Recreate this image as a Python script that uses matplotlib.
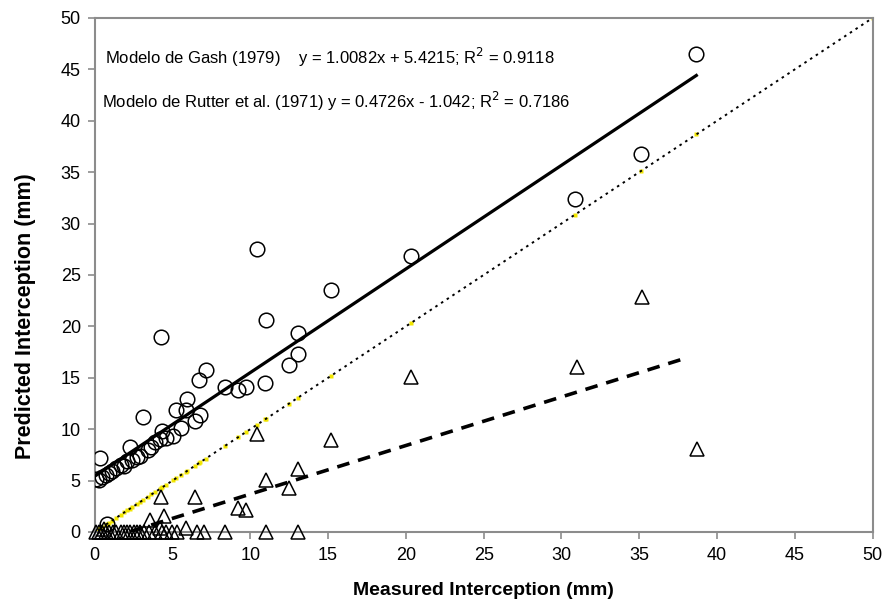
import numpy as np
from matplotlib import pyplot as plt
import matplotlib

matplotlib.rcParams['font.family'] = ['Liberation Sans', 'DejaVu Sans']

# Gash (1979) predictions - circles
gash_x = [0.1, 0.3, 0.35, 0.5, 0.7, 0.8, 0.9, 1.1, 1.4, 1.7, 1.9, 2.1, 2.25, 2.4, 2.7, 2.9,
          3.1, 3.4, 3.65, 3.9, 4.2, 4.24, 4.35, 4.6, 5.03, 5.25, 5.57, 5.85, 5.93, 6.43,
          6.68, 6.79, 7.13, 8.35, 9.2, 9.75, 10.4, 10.97, 11.0, 12.47, 13.05, 13.05,
          15.17, 20.3, 30.85, 35.1, 38.67]
gash_y = [5.2, 5.1, 7.2, 5.3, 5.5, 0.8, 5.7, 5.9, 6.2, 6.5, 6.4, 6.9, 8.3, 7.0, 7.3, 7.4,
          11.2, 8.0, 8.3, 8.8, 9.0, 19.0, 9.8, 9.1, 9.3, 11.9, 10.1, 11.9, 12.9, 10.8,
          14.8, 11.4, 15.8, 14.1, 13.8, 14.1, 27.5, 14.5, 20.6, 16.2, 19.4, 17.3,
          23.5, 26.8, 32.4, 36.8, 46.5]

# Rutter et al. (1971) predictions - triangles
rutter_x = [0.1, 0.3, 0.5, 0.7, 0.9, 1.2, 1.4, 1.7, 1.9, 2.1, 2.3, 2.5, 2.7, 2.9, 3.2, 3.5,
            3.9, 4.3, 4.6, 5.0, 5.3, 6.6, 7.0, 8.35, 11.0, 13.07,
            0.6, 3.53, 4.18, 4.24, 4.43, 5.9, 6.43, 9.2, 9.75, 10.4, 11.0, 12.47, 13.07,
            15.2, 20.3, 31.0, 35.15, 38.7]
rutter_y = [0, 0, 0, 0, 0, 0, 0, 0, 0, 0, 0, 0, 0, 0, 0, 0,
            0, 0, 0, 0, 0, 0, 0, 0, 0, 0,
            0.3, 1.2, 0.4, 3.4, 1.55, 0.4, 3.4, 2.3, 2.1, 9.5, 5.05, 4.3, 6.1,
            8.9, 15.1, 16.0, 22.9, 8.1]

# trend lines (slope, intercept, x range)
gash_fit = (1.0082, 5.4215)
gash_range = (0.1, 38.67)
rutter_fit = (0.4726, -1.042)
rutter_range = (2.3, 38.0)

fig = plt.figure(figsize=(8.85, 6.05), dpi=100)
ax = fig.add_axes([0.107, 0.1207, 0.879, 0.8496])

# 1:1 line with yellow points
one_x = sorted(set(gash_x + [50]))
ax.plot(one_x, one_x, ls='none', marker='s', ms=2.5, color='#f2e600', mec='none', zorder=1)
ax.plot([0, 50], [0, 50], ls=(0, (1.3, 2.2)), color='black', lw=1.4, zorder=2)

gx = np.array(gash_range)
ax.plot(gx, gash_fit[0] * gx + gash_fit[1], color='black', lw=2.3, zorder=3)
rx = np.array(rutter_range)
ax.plot(rx, rutter_fit[0] * rx + rutter_fit[1], color='black', lw=2.6,
        ls=(0, (3.5, 2.5)), zorder=3)

ax.plot(gash_x, gash_y, ls='none', marker='o', ms=10.5, mfc='none', mec='black',
        mew=1.1, zorder=4)
ax.plot(rutter_x, rutter_y, ls='none', marker='^', ms=9.5, mfc='none', mec='black',
        mew=1.1, zorder=4, clip_on=False)

ax.set_xlim(0, 50)
ax.set_ylim(0, 50)
ax.set_xticks(np.arange(0, 51, 5))
ax.set_yticks(np.arange(0, 51, 5))
for s in ax.spines.values():
    s.set_color('#8c8c8c')
    s.set_linewidth(1.5)
ax.tick_params(axis='both', direction='out', length=5, width=1.2, color='#8c8c8c',
               top=False, right=False)
ax.tick_params(axis='x', labelsize=13, pad=6)
ax.tick_params(axis='y', labelsize=13, pad=5)

ax.set_xlabel('Measured Interception (mm)', fontsize=14, fontweight='bold')
ax.set_ylabel('Predicted Interception (mm)', fontsize=15.5, fontweight='bold')
ax.xaxis.set_label_coords(0.5, -0.097)
ax.yaxis.set_label_coords(-0.075, 0.42)

ax.text(0.64, 46.2, 'Modelo de Gash (1979)    y = 1.0082x + 5.4215; R$^2$ = 0.9118',
        fontsize=12, va='center')
ax.text(0.45, 41.9, 'Modelo de Rutter et al. (1971) y = 0.4726x - 1.042; R$^2$ = 0.7186',
        fontsize=12, va='center')

fig.savefig('out.png', dpi=100)
